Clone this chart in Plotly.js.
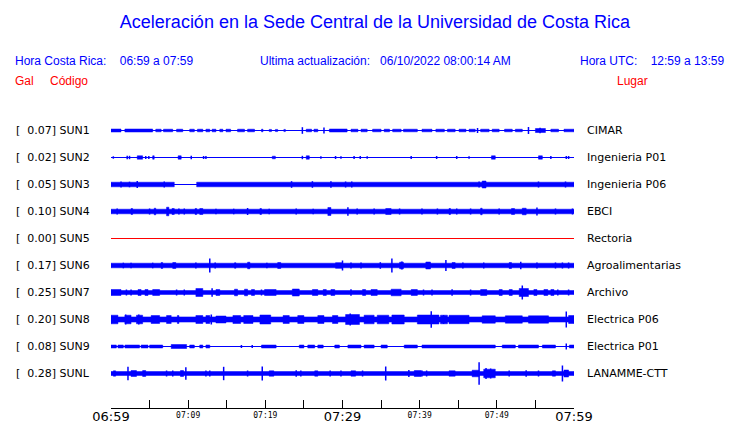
<!DOCTYPE html>
<html>
<head>
<meta charset="utf-8">
<script src="https://cdn.plot.ly/plotly-3.0.1.min.js"></script>
<style>html,body{margin:0;padding:0;background:#fff;}#chart{width:740px;height:423px;}</style>
</head>
<body>
<div id="chart"></div>
<script>
// ---------- DATA (minutes after 06:59; amplitudes in trace units) ----------
const codes  = ['SUN1','SUN2','SUN3','SUN4','SUN5','SUN6','SUN7','SUN8','SUN9','SUNL'];
const peaks  = ['0.07','0.02','0.05','0.10','0.00','0.17','0.25','0.20','0.08','0.28'];
const places = ['CIMAR','Ingenieria P01','Ingenieria P06','EBCI','Rectoria','Agroalimentarias','Archivo','Electrica P06','Electrica P01','LANAMME-CTT'];
const tickMinutes = [0,5,10,15,20,25,30,35,40,45,50,55,60];
const tickLabels  = ['06:59','','07:09','','07:19','','07:29','','07:39','','07:49','','07:59'];
const bigLabels   = ['06:59','07:29','07:59'];

// envelope blocks per station: [start, end, half-amplitude]
const bursts = [
  [[0,1.3,1.5],[1.8,5.4,1.5],[5.8,6.5,1.3],[6.8,8.0,1.3],[8.5,9.3,1.3],[10.2,10.8,1.3],[11.2,11.9,1.3],[12.3,12.8,1.3],[13.1,13.6,1.3],[14.1,14.5,1.3],[14.9,15.5,1.3],[16.4,17.3,1.3],[17.7,18.6,1.3],[19.5,19.7,1.3],[20.5,20.8,1.1],[21.3,21.6,1.1],[22.4,22.6,1.1],[25.3,26.0,1.3],[26.3,26.8,1.3],[28.3,30.6,1.5],[31.1,32.0,1.3],[32.4,33.2,1.3],[33.9,35.0,1.3],[35.4,36.1,1.3],[36.5,37.6,1.3],[37.9,39.7,1.3],[40.3,41.6,1.3],[42.1,43.2,1.3],[43.6,44.6,1.3],[45.1,46.0,1.3],[46.4,47.2,1.3],[47.9,49.0,1.3],[49.4,50.3,1.3],[51.0,52.0,1.3],[52.4,53.3,1.3],[55.0,56.3,2.0],[57.0,58.0,1.3],[58.7,60,1.3]],
  [[3.4,4.1,1.7],[5.4,5.6,1.7],[8.7,9.1,1.7],[20.9,21.3,1.3],[25.3,25.7,1.7],[49.3,49.8,1.7],[55.4,55.9,1.7]],
  [[0,8.2,2.3],[11.1,60,2.3],[48.1,48.6,3.5]],
  [[0,60,2.3],[2.6,2.8,3],[5.6,5.8,3.3],[7.2,7.5,4.3],[7.9,8.2,3],[10.9,11.1,3],[11.5,11.9,3],[19.3,19.5,3],[28.1,28.5,4],[35.6,36.3,3],[43.8,44.0,3],[47.9,48.1,3.3],[51.9,52.3,3],[53.3,53.8,3.3]],
  [],
  [[0,60,2.3],[6.5,6.7,3],[8.0,8.4,3],[16.0,16.2,2.7],[17.7,18.0,3.3],[21.6,22.0,3],[29.1,30.0,2.8],[37.4,37.9,3.3],[40.8,41.4,3.5],[44.2,44.6,3],[51.6,51.9,3]],
  [[0,60,2.0],[0,1.3,3],[3.5,3.9,3],[4.4,4.8,3],[5.4,6.3,3],[11.0,11.9,4],[13.6,14.1,3],[16.0,16.4,3.3],[17.3,17.7,3.3],[18.2,18.6,3],[19.9,21.4,3],[23.5,24.4,3.5],[26.1,26.8,3],[27.5,27.9,3],[28.5,29.0,3],[32.6,33.0,3],[33.7,34.5,3],[36.3,37.6,3.3],[38.9,39.7,3],[47.9,48.7,3],[50.3,50.7,3],[51.6,52.0,3],[52.9,54.1,4],[54.8,55.2,3],[56.1,56.6,3],[57.0,57.4,3]],
  [[0,60,2.6],[0,0.9,4.3],[1.8,2.6,4.3],[3.3,4.1,4.3],[5.2,6.3,4],[7.2,7.8,4],[8.6,8.8,4],[11.0,11.9,4],[12.3,12.8,4],[13.6,14.9,3.5],[15.8,16.8,4],[17.2,18.4,4],[19.3,20.7,4.5],[22.3,23.1,4],[24.2,25.0,4],[26.8,27.6,4],[28.7,29.4,4],[30.4,32.2,5],[32.8,34.1,4.3],[34.5,36.0,4.3],[36.4,38.0,4.5],[39.7,42.5,4.5],[42.7,43.6,4.3],[43.8,46.4,4.2],[48.1,49.8,3.7],[51.1,53.3,3.7],[54.1,56.7,3.7],[59.3,60,4]],
  [[0,0.7,1.5],[0.9,1.6,1.5],[1.8,3.7,1.5],[3.9,4.8,1.5],[5.0,6.7,1.5],[7.8,9.8,2.0],[10.2,10.8,1.5],[11.5,11.9,1.5],[12.3,12.8,1.5],[19.5,21.4,1.5],[24.4,25.0,1.5],[25.5,26.4,1.5],[26.8,27.5,1.5],[29.0,29.6,1.5],[30.7,32.4,1.5],[32.8,34.1,1.5],[35.0,35.8,1.5],[38.0,39.7,1.5],[40.3,49.8,1.5],[50.7,52.4,1.5],[52.8,55.4,1.5],[55.9,57.6,1.5],[59.4,60,1.5]],
  [[0,60,2.0],[0.3,0.6,2.7],[2.6,3.3,3],[4.1,4.5,3],[9.0,9.4,3],[20.5,21.1,2.7],[26.4,26.8,2.7],[31.1,31.7,2.7],[39.3,40.2,3],[43.8,44.6,2.7],[46.8,47.7,3.3],[48.3,49.8,4.3],[57.2,57.6,2.7],[58.7,59.3,3.5]]
];

// isolated peaks per station: [minute, half-amplitude]
const spikes = [
  [[24.8,3.3],[27.6,3],[47.5,2.5],[54.1,3.5],[55.6,2.8]],
  [[0.3,1.2],[2.1,1.7],[2.4,1.7],[4.5,1.5],[4.9,1.5],[10.4,1.7],[12.0,1.5],[12.3,1.5],[24.8,1.7],[27.2,1.2],[29.1,1.5],[29.8,1.2],[31.5,1.5],[32.3,1.5],[33.2,1.2],[38.9,1.5],[42.2,1.5],[44.8,1.5],[46.4,1.2],[57.0,1.5],[59.0,1.5],[59.3,1.5]],
  [[1.3,3],[2.4,2.8],[3.4,3.5],[6.9,3],[23.4,3.3],[26.1,3.3],[28.5,3.3],[30.4,3],[31.2,3],[47.7,3],[55.4,3],[58.9,3]],
  [[0.8,3],[5.0,3],[8.8,3],[9.5,3],[13.6,2.8],[15.9,2.8],[17.7,3.5],[20.5,2.7],[24.0,3],[26.2,2.8],[30.7,4.3],[31.9,3],[34.1,3],[37.4,3],[40.3,3],[42.3,3],[44.8,3],[46.6,3],[50.3,3],[55.2,4],[57.6,3],[59.8,3]],
  [],
  [[1.6,2.8],[2.6,2.8],[5.4,2.8],[11.0,3],[12.8,7],[13.5,3],[20.2,2.8],[30.0,5],[31.1,3],[32.4,3],[34.9,3.3],[36.4,7],[37.7,4],[43.4,5.5],[45.6,3],[48.3,3],[53.1,3.7],[55.2,3],[57.6,3],[58.5,3],[59.3,3]],
  [[2.0,3],[2.6,3],[8.5,3],[9.5,3],[13.1,4.3],[19.5,3],[31.1,3.3],[40.5,3],[41.6,3],[44.2,3.3],[46.6,3],[53.3,7],[57.9,3],[59.3,3]],
  [[1.9,5],[3.6,5],[13.0,5],[31.0,6],[41.5,8.3],[43.1,4.5],[59.0,8]],
  [[16.9,1.5],[18.3,1.5],[59.0,3]],
  [[2.2,6.7],[7.2,3],[8.0,3],[9.7,6.3],[12.3,3],[12.8,3],[14.6,6.7],[17.7,3],[19.6,7],[24.0,3.3],[24.6,3],[28.4,3],[29.8,3],[32.6,3],[35.6,7],[38.6,3.5],[40.3,3],[40.9,3],[47.7,11.2],[48.6,5.5],[49.2,5],[51.6,3],[53.8,3.3],[55.4,3],[58.5,8]]
];

// ---------- DRAWING ----------
const BLUE = '#0000ff', RED = '#ff0000';
const W = 740, H = 423;
const ML = 111, MR = 166, MT = 116, MB = 15;
const plotW = W - ML - MR, plotH = H - MT - MB;
const rowY = k => plotH - (14.5 + 27 * k);   // trace centre in y units (1 unit = 1 px)
const pxToPaperX = px => (px - ML) / plotW;
const pxToPaperY = py => (H - MB - py) / plotH;

const traces = [];
codes.forEach((code, k) => {
  const off = rowY(k);
  const col = k === 4 ? RED : BLUE;
  traces.push({x:[0,60], y:[off,off], mode:'lines', line:{color:col, width:1}, hoverinfo:'skip', showlegend:false});
  const bx = [], by = [];
  bursts[k].forEach(([a,b,h]) => {
    bx.push(a,b,b,a,a,null);
    by.push(off+h,off+h,off-h,off-h,off+h,null);
  });
  if (bx.length) traces.push({x:bx, y:by, mode:'lines', fill:'toself', fillcolor:col, line:{color:col, width:0.5}, hoverinfo:'skip', showlegend:false});
  const sx = [], sy = [];
  spikes[k].forEach(([t,h]) => { sx.push(t,t,null); sy.push(off-h,off+h,null); });
  if (sx.length) traces.push({x:sx, y:sy, mode:'lines', line:{color:col, width:1.5}, hoverinfo:'skip', showlegend:false});
});

const annotations = [];
codes.forEach((code, k) => {
  annotations.push({xref:'paper', yref:'y', x:pxToPaperX(14), y:rowY(k), xanchor:'left', yanchor:'middle', showarrow:false,
    text:'[\u00a0\u00a0' + peaks[k] + '] ' + code, font:{family:'DejaVu Sans', size:11, color:'#000'}});
  annotations.push({xref:'paper', yref:'y', x:pxToPaperX(585), y:rowY(k), xanchor:'left', yanchor:'middle', showarrow:false,
    text:places[k], font:{family:'DejaVu Sans', size:11, color:'#000'}});
});
const hdrFont = c => ({family:'Liberation Sans, Arial, sans-serif', size:12, color:c});
annotations.push({xref:'paper', yref:'paper', x:pxToPaperX(13), y:pxToPaperY(61), xanchor:'left', yanchor:'middle', showarrow:false,
  text:'Hora Costa Rica:\u00a0\u00a0\u00a0 06:59 a 07:59', font:hdrFont(BLUE)});
annotations.push({xref:'paper', yref:'paper', x:pxToPaperX(258), y:pxToPaperY(61), xanchor:'left', yanchor:'middle', showarrow:false,
  text:'Ultima actualización:\u00a0\u00a0 06/10/2022 08:00:14 AM', font:hdrFont(BLUE)});
annotations.push({xref:'paper', yref:'paper', x:pxToPaperX(726), y:pxToPaperY(61), xanchor:'right', yanchor:'middle', showarrow:false,
  text:'Hora UTC:\u00a0\u00a0\u00a0 12:59 a 13:59', font:hdrFont(BLUE)});
annotations.push({xref:'paper', yref:'paper', x:pxToPaperX(13), y:pxToPaperY(81), xanchor:'left', yanchor:'middle', showarrow:false,
  text:'Gal', font:hdrFont(RED)});
annotations.push({xref:'paper', yref:'paper', x:pxToPaperX(48), y:pxToPaperY(81), xanchor:'left', yanchor:'middle', showarrow:false,
  text:'Código', font:hdrFont(RED)});
annotations.push({xref:'paper', yref:'paper', x:pxToPaperX(650), y:pxToPaperY(81), xanchor:'right', yanchor:'middle', showarrow:false,
  text:'Lugar', font:hdrFont(RED)});

const ticktext = tickLabels.map(t => t === '' ? '' :
  (bigLabels.includes(t) ? t : '<span style="font-size:8px;font-family:DejaVu Sans Mono;baseline-shift:3px">' + t + '</span>'));

const layout = {
  width:W, height:H,
  margin:{l:ML, r:MR, t:MT, b:MB, pad:0},
  paper_bgcolor:'#fff', plot_bgcolor:'#fff',
  title:{text:'Aceleración en la Sede Central de la Universidad de Costa Rica', x:375/W, xanchor:'center', y:1-22/H, yanchor:'middle', yref:'container',
    font:{family:'Liberation Sans, Arial, sans-serif', size:18, color:BLUE}},
  xaxis:{range:[0,60], tickmode:'array', tickvals:tickMinutes, ticktext:ticktext, ticks:'inside', ticklen:8, tickwidth:1, tickcolor:'#000',
    showline:true, linecolor:'#000', linewidth:1, showgrid:false, zeroline:false, fixedrange:true, ticklabelstandoff:-4,
    tickfont:{family:'DejaVu Sans', size:13, color:'#000'}},
  yaxis:{range:[0,plotH], visible:false, showgrid:false, zeroline:false, fixedrange:true},
  annotations:annotations,
  showlegend:false
};

Plotly.newPlot('chart', traces, layout, {staticPlot:true, displayModeBar:false});
</script>
</body>
</html>
